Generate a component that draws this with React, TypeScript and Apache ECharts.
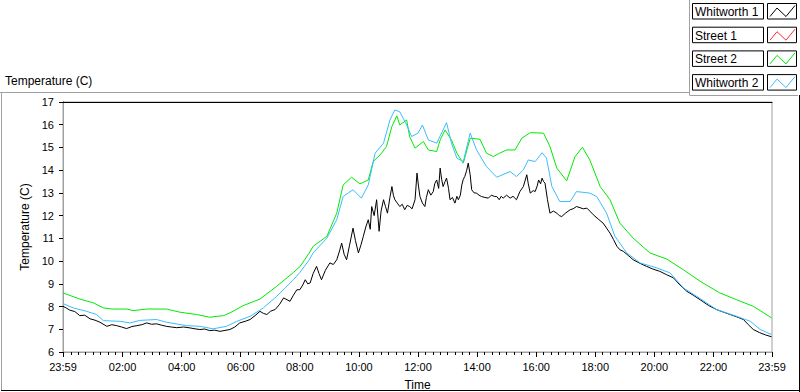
import React, { useEffect, useRef } from "react";
import * as echarts from "echarts";

// x values are minutes elapsed since 23:59 (start of the record)
const seriesNames = ["Whitworth 1", "Street 1", "Street 2", "Whitworth 2"];
const seriesColors = ["#000000", "#ff2a2a", "#00ea00", "#3cbcff"];

const majorTickMinutes = [0, 121, 241, 361, 481, 601, 721, 841, 961, 1081, 1201, 1321, 1440];
const majorTickLabels = ["23:59", "02:00", "04:00", "06:00", "08:00", "10:00", "12:00", "14:00", "16:00", "18:00", "20:00", "22:00", "23:59"];

const yMin = 6;
const yMax = 17;

const whitworth1Minutes = [
  0, 7, 14, 24, 34, 44, 55, 65, 75, 89, 99, 109, 119, 129, 140, 150, 160, 170, 180, 190, 200, 210, 220, 231, 245, 258, 268, 278, 288, 298,
  308, 319, 329, 339, 349, 359, 370, 380, 390, 400, 407, 414, 422, 431, 440, 448, 455, 461, 468, 475, 481, 487, 492, 497, 502, 508, 515, 520, 525, 533,
  542, 549, 556, 561, 566, 571, 576, 582, 589, 594, 600, 605, 610, 615, 620, 624, 627, 632, 637, 642, 646, 651, 655, 659, 664, 668, 671, 674, 679, 684,
  689, 694, 699, 704, 709, 715, 719, 722, 725, 730, 735, 738, 742, 747, 752, 755, 759, 763, 766, 769, 772, 776, 779, 783, 786, 791, 796, 800, 803, 807,
  810, 813, 816, 820, 823, 827, 830, 835, 840, 845, 850, 857, 864, 870, 877, 881, 886, 890, 894, 901, 908, 914, 921, 928, 935, 942, 945, 949, 955, 959,
  963, 966, 970, 973, 976, 979, 984, 989, 996, 1003, 1008, 1013, 1020, 1030, 1036, 1043, 1050, 1057, 1064, 1070, 1077, 1087, 1097, 1104, 1111, 1118, 1125, 1131, 1138, 1148,
  1158, 1172, 1185, 1198, 1212, 1226, 1240, 1253, 1267, 1280, 1294, 1311, 1328, 1342, 1355, 1368, 1382, 1392, 1402, 1415, 1427, 1439,
];
const whitworth1Temps = [
  8.01, 7.93, 7.84, 7.78, 7.6, 7.62, 7.46, 7.4, 7.31, 7.13, 7.2, 7.16, 7.1, 7.03, 7.12, 7.16, 7.2, 7.28, 7.22, 7.24, 7.18, 7.13, 7.1, 7.07, 7.1, 7.06, 7.02, 6.99, 7.01, 6.94,
  6.96, 6.91, 6.95, 6.99, 7.1, 7.28, 7.35, 7.43, 7.6, 7.79, 7.7, 7.65, 7.8, 7.87, 8.1, 8.38, 8.3, 8.23, 8.5, 8.74, 8.74, 8.95, 9.18, 9.0, 9.04, 9.45, 9.77, 9.45, 9.18, 9.6,
  9.92, 9.85, 10.06, 10.4, 10.79, 10.3, 10.06, 10.7, 11.45, 10.9, 10.36, 10.7, 11.09, 11.5, 11.82, 11.4, 12.4, 12.0, 12.7, 11.31, 12.2, 12.7, 12.4, 12.11, 12.8, 13.28, 12.9, 12.7, 12.55, 12.4,
  12.5, 12.26, 12.45, 12.4, 12.3, 12.7, 13.87, 13.3, 12.84, 12.55, 12.4, 12.8, 13.14, 12.9, 13.06, 13.4, 13.57, 13.2, 14.09, 13.6, 13.28, 13.5, 13.65, 13.2, 12.7, 12.8, 12.55, 12.85, 12.7, 12.9,
  13.35, 13.6, 13.72, 14.0, 14.31, 13.8, 13.14, 13.0, 12.99, 12.9, 12.84, 12.8, 12.77, 12.9, 12.84, 12.84, 12.7, 12.85, 12.77, 12.9, 12.77, 12.85, 12.7, 13.06, 13.28, 13.8, 13.4, 12.99, 13.1, 13.06,
  13.3, 13.57, 13.4, 13.65, 13.5, 13.43, 12.7, 12.11, 12.2, 12.11, 12.0, 11.96, 12.1, 12.26, 12.3, 12.4, 12.35, 12.3, 12.33, 12.2, 12.04, 11.85, 11.67, 11.45, 11.23, 10.95, 10.65, 10.5, 10.43, 10.25,
  10.06, 9.9, 9.77, 9.65, 9.55, 9.4, 9.26, 8.95, 8.67, 8.5, 8.3, 8.05, 7.86, 7.75, 7.65, 7.55, 7.43, 7.2, 6.99, 6.85, 6.75, 6.67,
];

const street1Minutes: number[] = [];
const street1Temps: number[] = [];

const street2Minutes = [
  0, 34, 62, 82, 100, 130, 142, 170, 210, 238, 271, 298, 326, 339, 366, 400, 434, 468, 481, 500, 508, 536, 556, 569, 586, 603, 620, 630, 644, 657,
  668, 678, 684, 698, 704, 715, 732, 742, 759, 766, 776, 789, 800, 813, 827, 847, 860, 874, 887, 901, 918, 932, 949, 976, 989, 1003, 1023, 1040, 1055, 1070,
  1091, 1111, 1131, 1158, 1192, 1226, 1260, 1294, 1334, 1368, 1402, 1439,
];
const street2Temps = [
  8.6, 8.33, 8.16, 7.94, 7.89, 7.89, 7.82, 7.89, 7.89, 7.75, 7.65, 7.53, 7.6, 7.72, 8.04, 8.33, 8.89, 9.5, 9.75, 10.35, 10.65, 11.09, 12.11, 13.35, 13.69, 13.4, 13.57, 14.38, 14.67, 15.04,
  15.92, 16.39, 15.99, 16.21, 15.48, 14.97, 15.26, 14.89, 14.82, 15.33, 15.77, 15.33, 14.75, 14.31, 15.41, 15.36, 14.75, 14.6, 14.75, 14.89, 14.89, 15.41, 15.65, 15.63, 15.04, 14.09, 13.53, 14.6, 15.01, 14.45,
  13.28, 12.7, 11.67, 11.01, 10.36, 10.09, 9.62, 9.11, 8.6, 8.3, 8.01, 7.5,
];

const whitworth2Minutes = [
  0, 21, 48, 68, 82, 116, 136, 156, 190, 210, 251, 278, 305, 332, 353, 380, 407, 434, 468, 481, 500, 508, 536, 556, 569, 589, 606, 620, 634, 651,
  664, 674, 684, 698, 708, 721, 730, 742, 759, 779, 789, 800, 813, 827, 840, 860, 881, 908, 921, 935, 945, 959, 973, 982, 993, 1009, 1030, 1043, 1070, 1084,
  1104, 1121, 1145, 1172, 1206, 1233, 1260, 1287, 1328, 1368, 1396, 1416, 1439,
];
const whitworth2Temps = [
  8.13, 7.94, 7.79, 7.65, 7.38, 7.35, 7.28, 7.39, 7.43, 7.31, 7.16, 7.13, 7.02, 7.13, 7.35, 7.57, 7.94, 8.45, 9.18, 9.5, 10.05, 10.36, 11.01, 11.82, 12.84, 13.14, 12.77, 13.35, 14.75, 15.19,
  16.21, 16.65, 16.57, 15.99, 15.48, 15.63, 15.99, 15.33, 15.19, 16.09, 15.19, 14.53, 14.38, 15.63, 14.89, 14.16, 13.69, 13.94, 13.72, 14.01, 14.45, 14.38, 14.77, 14.53, 13.28, 12.62, 12.62, 13.06, 12.99, 12.84,
  12.11, 11.09, 10.36, 9.92, 9.7, 9.48, 8.82, 8.45, 7.86, 7.57, 7.35, 6.99, 6.77,
];

const seriesMinutes = [whitworth1Minutes, street1Minutes, street2Minutes, whitworth2Minutes];
const seriesTemps = [whitworth1Temps, street1Temps, street2Temps, whitworth2Temps];

const FONT = "Liberation Sans";

export default function App() {
  const ref = useRef<HTMLDivElement>(null);

  useEffect(() => {
    if (!ref.current) return;
    const chart = echarts.init(ref.current, undefined, { renderer: "svg" });

    const minorTicks: number[] = [];
    for (let k = 1; k < 96; k++) {
      if (k % 8 !== 0) minorTicks.push(1 + k * 15);
    }

    const series = seriesNames.map((name, i) => ({
      name,
      type: "line",
      xAxisIndex: 0,
      yAxisIndex: 0,
      showSymbol: false,
      symbol: "none",
      lineStyle: { color: seriesColors[i], width: 1 },
      itemStyle: { color: seriesColors[i] },
      data: seriesMinutes[i].map((t, j) => [t, seriesTemps[i][j]]),
    }));

    const legendGraphics: any[] = [];
    seriesNames.forEach((name, i) => {
      const top = 3.5 + i * 23.7;
      legendGraphics.push({
        type: "rect",
        shape: { x: 692.5, y: top, width: 71, height: 15.5 },
        style: { fill: "#fff", stroke: "#000", lineWidth: 1 },
      });
      legendGraphics.push({
        type: "text",
        x: 695,
        y: top + 8.5,
        style: { text: name, fill: "#000", font: `12px "${FONT}"`, verticalAlign: "middle" },
      });
      legendGraphics.push({
        type: "rect",
        shape: { x: 767.5, y: top, width: 29, height: 15.5 },
        style: { fill: "#fff", stroke: "#000", lineWidth: 1 },
      });
      legendGraphics.push({
        type: "polyline",
        shape: {
          points: [
            [770, top + 13],
            [777, top + 4.5],
            [786, top + 13],
            [795, top + 2],
          ],
        },
        style: { stroke: seriesColors[i], lineWidth: 1, fill: "none" },
      });
    });

    const line = (x1: number, y1: number, x2: number, y2: number, color: string) => ({
      type: "line",
      shape: { x1, y1, x2, y2 },
      style: { stroke: color, lineWidth: 1 },
      silent: true,
    });

    chart.setOption({
      animation: false,
      backgroundColor: "#ffffff",
      textStyle: { fontFamily: FONT },
      grid: {
        left: 63,
        top: 102,
        right: 28,
        bottom: 40,
        containLabel: false,
        outerBoundsMode: "none",
        show: true,
        borderColor: "#a0a0a0",
        borderWidth: 1,
        backgroundColor: "#ffffff",
      },
      xAxis: [
        {
          type: "value",
          min: 0,
          max: 1440,
          position: "bottom",
          axisLine: { show: true, lineStyle: { color: "#a0a0a0", width: 1 } },
          axisTick: { show: true, customValues: majorTickMinutes, length: 5, lineStyle: { color: "#000" } },
          axisLabel: {
            customValues: majorTickMinutes,
            formatter: (v: number) => {
              const idx = majorTickMinutes.indexOf(Math.round(v));
              return idx >= 0 ? majorTickLabels[idx] : "";
            },
            color: "#000",
            fontSize: 11,
            fontFamily: FONT,
            margin: 9,
          },
          splitLine: { show: false },
          name: "Time",
          nameLocation: "middle",
          nameGap: 27,
          nameTextStyle: { color: "#000", fontSize: 12, fontFamily: FONT },
        },
        {
          type: "value",
          min: 0,
          max: 1440,
          position: "bottom",
          axisLine: { show: false },
          axisTick: { show: true, customValues: minorTicks, length: 3, lineStyle: { color: "#000" } },
          axisLabel: { show: false },
          splitLine: { show: false },
        },
        {
          type: "value",
          min: 0,
          max: 1440,
          position: "top",
          axisLine: { show: true, lineStyle: { color: "#000", width: 1 } },
          axisTick: { show: false },
          axisLabel: { show: false },
          splitLine: { show: false },
        },
      ],
      yAxis: [
        {
          type: "value",
          min: yMin,
          max: yMax,
          interval: 1,
          position: "left",
          axisLine: { show: true, lineStyle: { color: "#000", width: 1 } },
          axisTick: { show: true, length: 4, lineStyle: { color: "#000" } },
          axisLabel: { color: "#000", fontSize: 11, fontFamily: FONT, margin: 9 },
          splitLine: { show: false },
          name: "Temperature (C)",
          nameLocation: "middle",
          nameRotate: 90,
          nameGap: 25,
          nameTextStyle: { color: "#000", fontSize: 12, fontFamily: FONT },
        },
        {
          type: "value",
          min: yMin,
          max: yMax,
          position: "right",
          axisLine: { show: true, lineStyle: { color: "#a0a0a0", width: 1 } },
          axisTick: { show: false },
          axisLabel: { show: false },
          splitLine: { show: false },
        },
      ],
      series,
      graphic: [
        {
          type: "text",
          left: 5,
          top: 75,
          style: { text: "Temperature (C)", fill: "#000", font: `12px "${FONT}"` },
        },
        line(0, 92.5, 689, 92.5, "#a0a0a0"),
        line(689.5, 0, 689.5, 95, "#a0a0a0"),
        line(689.5, 95.5, 798, 95.5, "#a0a0a0"),
        line(1.5, 92.5, 1.5, 391, "#a0a0a0"),
        line(799.5, 95, 799.5, 392, "#000"),
        line(1, 390.5, 800, 390.5, "#000"),
        ...legendGraphics,
      ],
    });

    return () => chart.dispose();
  }, []);

  return (
    <div
      ref={ref}
      style={{ position: "fixed", left: 0, top: 0, width: 800, height: 392, background: "#fff" }}
    />
  );
}
